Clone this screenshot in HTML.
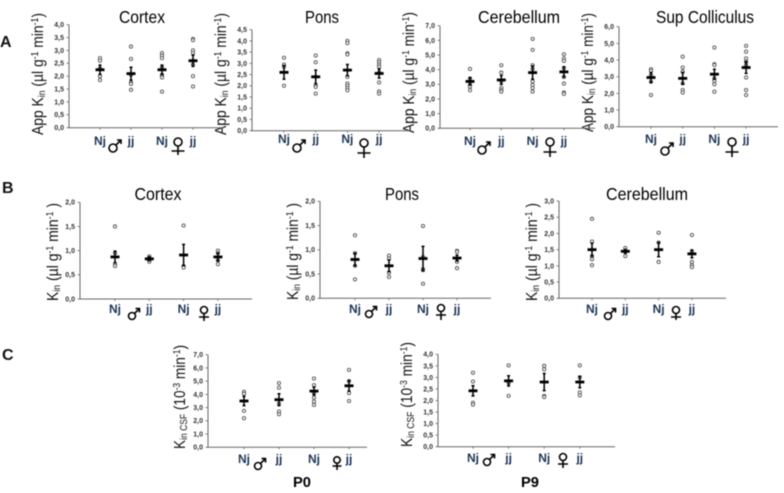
<!DOCTYPE html>
<html>
<head>
<meta charset="utf-8">
<style>
html,body{margin:0;padding:0;background:#fff;width:784px;height:493px;overflow:hidden}
svg{display:block;filter:blur(0.4px)}
text{font-family:"Liberation Sans",sans-serif}
.title{font-size:17.5px;fill:#000;text-anchor:middle}
.ylab{font-size:16px;fill:#111}
.sub{font-size:10px}
.letter{font-size:16px;font-weight:bold;fill:#111}
.age{font-size:15px;font-weight:bold;fill:#000;text-anchor:middle}
</style>
</head>
<body>
<svg id="figure" xmlns="http://www.w3.org/2000/svg" width="784" height="493" viewBox="0 0 784 493">
  <rect width="784" height="493" fill="#fff"/>

  <text class="letter" x="0" y="47">A</text>
  <text class="letter" x="2" y="193">B</text>
  <text class="letter" x="2" y="360">C</text>

  <text class="title" x="142" y="23" textLength="46" lengthAdjust="spacingAndGlyphs">Cortex</text>
  <text class="title" x="322" y="23" textLength="34" lengthAdjust="spacingAndGlyphs">Pons</text>
  <text class="title" x="519" y="23" textLength="82" lengthAdjust="spacingAndGlyphs">Cerebellum</text>
  <text class="title" x="705" y="23" textLength="98" lengthAdjust="spacingAndGlyphs">Sup Colliculus</text>
  <text class="title" x="158" y="200" textLength="47" lengthAdjust="spacingAndGlyphs">Cortex</text>
  <text class="title" x="402" y="200" textLength="34" lengthAdjust="spacingAndGlyphs">Pons</text>
  <text class="title" x="647" y="200" textLength="82" lengthAdjust="spacingAndGlyphs">Cerebellum</text>
  <text class="age" x="302" y="487" textLength="18" lengthAdjust="spacingAndGlyphs">P0</text>
  <text class="age" x="530" y="487" textLength="18" lengthAdjust="spacingAndGlyphs">P9</text>

  <text class="ylab" transform="translate(43 135) rotate(-90)" textLength="122" lengthAdjust="spacingAndGlyphs">App K<tspan class="sub" dy="2">in</tspan><tspan dy="-2"> (µl g</tspan><tspan class="sub" dy="-5">-1</tspan><tspan dy="5"> min</tspan><tspan class="sub" dy="-5">-1</tspan><tspan dy="5">)</tspan></text>
  <text class="ylab" transform="translate(226 135) rotate(-90)" textLength="122" lengthAdjust="spacingAndGlyphs">App K<tspan class="sub" dy="2">in</tspan><tspan dy="-2"> (µl g</tspan><tspan class="sub" dy="-5">-1</tspan><tspan dy="5"> min</tspan><tspan class="sub" dy="-5">-1</tspan><tspan dy="5">)</tspan></text>
  <text class="ylab" transform="translate(414 133) rotate(-90)" textLength="121" lengthAdjust="spacingAndGlyphs">App K<tspan class="sub" dy="2">in</tspan><tspan dy="-2"> (µl g</tspan><tspan class="sub" dy="-5">-1</tspan><tspan dy="5"> min</tspan><tspan class="sub" dy="-5">-1</tspan><tspan dy="5">)</tspan></text>
  <text class="ylab" transform="translate(593 132) rotate(-90)" textLength="119" lengthAdjust="spacingAndGlyphs">App K<tspan class="sub" dy="2">in</tspan><tspan dy="-2"> (µl g</tspan><tspan class="sub" dy="-5">-1</tspan><tspan dy="5"> min</tspan><tspan class="sub" dy="-5">-1</tspan><tspan dy="5">)</tspan></text>
  <rect x="596" y="90" width="8" height="46" fill="#fff"/>
  <text class="ylab" transform="translate(58 301) rotate(-90)" textLength="98" lengthAdjust="spacingAndGlyphs">K<tspan class="sub" dy="2">in</tspan><tspan dy="-2"> (µl g</tspan><tspan class="sub" dy="-5">-1</tspan><tspan dy="5"> min</tspan><tspan class="sub" dy="-5">-1</tspan><tspan dy="5"> )</tspan></text>
  <text class="ylab" transform="translate(298 300) rotate(-90)" textLength="97" lengthAdjust="spacingAndGlyphs">K<tspan class="sub" dy="2">in</tspan><tspan dy="-2"> (µl g</tspan><tspan class="sub" dy="-5">-1</tspan><tspan dy="5"> min</tspan><tspan class="sub" dy="-5">-1</tspan><tspan dy="5"> )</tspan></text>
  <text class="ylab" transform="translate(537 301) rotate(-90)" textLength="98" lengthAdjust="spacingAndGlyphs">K<tspan class="sub" dy="2">in</tspan><tspan dy="-2"> (µl g</tspan><tspan class="sub" dy="-5">-1</tspan><tspan dy="5"> min</tspan><tspan class="sub" dy="-5">-1</tspan><tspan dy="5"> )</tspan></text>
  <text class="ylab" transform="translate(185 449) rotate(-90)" textLength="104" lengthAdjust="spacingAndGlyphs">K<tspan class="sub" dy="2">in CSF</tspan><tspan dy="-2"> (10</tspan><tspan class="sub" dy="-5">-3</tspan><tspan dy="5"> min</tspan><tspan class="sub" dy="-5">-1</tspan><tspan dy="5">)</tspan></text>
  <text class="ylab" transform="translate(412 447) rotate(-90)" textLength="105" lengthAdjust="spacingAndGlyphs">K<tspan class="sub" dy="2">in CSF</tspan><tspan dy="-2"> (10</tspan><tspan class="sub" dy="-5">-3</tspan><tspan dy="5"> min</tspan><tspan class="sub" dy="-5">-1</tspan><tspan dy="5">)</tspan></text>

  <g id="charts"></g>
</svg>

<script>
// ---- data ----
const categories = ["Nj", "jj", "Nj", "jj"];

const ticksCortexA = ["0,0","0,5","1,0","1,5","2,0","2,5","3,0","3,5","4,0"];
const meansCortexA = [2.25, 2.1, 2.25, 2.6];
const errorsCortexA = [0.18, 0.25, 0.18, 0.22];
const pointsCortexA = [
  [2.7, 2.6, 2.3, 2.0, 1.85],
  [3.15, 2.67, 2.05, 1.75, 1.7, 1.47],
  [2.9, 2.8, 2.7, 2.35, 2.05, 2.0, 1.95, 1.4],
  [3.45, 3.4, 3.0, 2.9, 2.6, 2.45, 2.0, 1.6]
];

const ticksPonsA = ["0,0","0,5","1,0","1,5","2,0","2,5","3,0","3,5","4,0","4,5"];
const meansPonsA = [2.6, 2.4, 2.7, 2.55];
const errorsPonsA = [0.3, 0.3, 0.25, 0.2];
const pointsPonsA = [
  [3.25, 2.95, 2.85, 2.0],
  [3.35, 3.05, 2.4, 2.0, 1.95, 1.65],
  [4.0, 3.9, 3.45, 3.4, 2.4, 2.1, 2.0, 1.9, 1.8],
  [3.15, 3.05, 2.95, 2.85, 2.6, 2.15, 1.75, 1.65]
];

const ticksCerebellumA = ["0,0","1,0","2,0","3,0","4,0","5,0","6,0","7,0"];
const meansCerebellumA = [3.2, 3.3, 3.8, 3.85];
const errorsCerebellumA = [0.25, 0.3, 0.45, 0.35];
const pointsCerebellumA = [
  [4.05, 3.4, 3.0, 2.85, 2.6],
  [4.3, 3.8, 3.2, 2.75, 2.6, 2.5],
  [6.1, 5.35, 4.3, 4.05, 3.2, 2.95, 2.75, 2.5],
  [5.05, 4.75, 4.6, 4.1, 3.5, 3.05, 2.45, 2.35]
];

const ticksSupColliculusA = ["0,0","1,0","2,0","3,0","4,0","5,0","6,0"];
const meansSupColliculusA = [2.95, 2.9, 3.15, 3.55];
const errorsSupColliculusA = [0.3, 0.35, 0.3, 0.35];
const pointsSupColliculusA = [
  [3.45, 3.35, 3.1, 2.7, 1.9],
  [4.2, 3.55, 3.3, 2.6, 2.2, 2.05],
  [4.75, 3.75, 3.7, 2.9, 2.75, 2.55, 2.1],
  [4.85, 4.5, 4.1, 3.9, 3.7, 2.95, 2.2, 1.9]
];

const ticksCortexB = ["0,0","0,5","1,0","1,5","2,0"];
const meansCortexB = [0.87, 0.83, 0.91, 0.87];
const errorsCortexB = [0.12, 0.04, 0.22, 0.08];
const pointsCortexB = [
  [1.5, 0.95, 0.72, 0.68],
  [0.88, 0.85, 0.8, 0.77],
  [1.52, 0.68, 0.65],
  [1.0, 0.95, 0.8, 0.72]
];

const ticksPonsB = ["0,0","0,5","1,0","1,5","2,0"];
const meansPonsB = [0.8, 0.67, 0.82, 0.83];
const errorsPonsB = [0.13, 0.12, 0.25, 0.06];
const pointsPonsB = [
  [1.3, 0.93, 0.67, 0.39],
  [0.88, 0.82, 0.53, 0.44],
  [1.49, 0.85, 0.6, 0.58, 0.3],
  [0.98, 0.96, 0.82, 0.75, 0.62]
];

const ticksCerebellumB = ["0,0","0,5","1,0","1,5","2,0","2,5","3,0"];
const meansCerebellumB = [1.5, 1.45, 1.5, 1.37];
const errorsCerebellumB = [0.2, 0.06, 0.22, 0.12];
const pointsCerebellumB = [
  [2.45, 1.75, 1.3, 1.2, 1.02],
  [1.55, 1.45, 1.3],
  [2.02, 1.72, 1.12],
  [1.95, 1.45, 1.12, 1.02, 0.96]
];

const ticksP0 = ["0,0","1,0","2,0","3,0","4,0","5,0","6,0","7,0"];
const meansP0 = [3.5, 3.6, 4.25, 4.65];
const errorsP0 = [0.35, 0.45, 0.3, 0.4];
const pointsP0 = [
  [4.2, 4.05, 2.75, 2.2],
  [4.85, 4.5, 3.3, 2.7, 2.5],
  [5.2, 4.7, 4.1, 3.75, 3.45, 3.2],
  [5.85, 5.0, 4.1, 3.5]
];

const ticksP9 = ["0,0","0,5","1,0","1,5","2,0","2,5","3,0","3,5","4,0"];
const meansP9 = [2.42, 2.85, 2.8, 2.8];
const errorsP9 = [0.22, 0.22, 0.37, 0.25];
const pointsP9 = [
  [3.2, 2.82, 1.9, 1.82],
  [3.52, 2.75, 2.2],
  [3.5, 3.35, 2.2, 2.15],
  [3.52, 3.0, 2.35, 2.22]
];

// ---- layout (separate from the data) ----
const panels = [
  {id:"a-cortex", ticks:ticksCortexA, means:meansCortexA, errors:errorsCortexA, points:pointsCortexA,
   box:{left:69,right:224,top:24.7,bottom:127.7,first:100,step:31,label:145},
   male:{x:113,y:148,r:4}, female:{x:178,y:142,r:4,cross:151,end:155,half:6.5}},
  {id:"a-pons", ticks:ticksPonsA, means:meansPonsA, errors:errorsPonsA, points:pointsPonsA,
   box:{left:252,right:410,top:29.7,bottom:130.7,first:284,step:31.7,label:143},
   male:{x:297,y:148,r:4}, female:{x:364,y:143,r:4,cross:153,end:158,half:6.5}},
  {id:"a-cerebellum", ticks:ticksCerebellumA, means:meansCerebellumA, errors:errorsCerebellumA, points:pointsCerebellumA,
   box:{left:440,right:595,top:25.7,bottom:128.3,first:470,step:31.3,label:145},
   male:{x:482,y:150,r:4}, female:{x:550,y:142,r:4,cross:152,end:157,half:6.5}},
  {id:"a-sup-colliculus", ticks:ticksSupColliculusA, means:meansSupColliculusA, errors:errorsSupColliculusA, points:pointsSupColliculusA,
   box:{left:619,right:778,top:26.7,bottom:126.7,first:651,step:31.7,label:143},
   male:{x:665,y:151,r:4}, female:{x:732,y:142,r:4,cross:152,end:157,half:6.5}},
  {id:"b-cortex", ticks:ticksCortexB, means:meansCortexB, errors:errorsCortexB, points:pointsCortexB,
   box:{left:80,right:252,top:202.3,bottom:299,first:115,step:34.3,label:313},
   male:{x:132,y:316,r:3.5}, female:{x:204,y:310,r:3.5,cross:317,end:321,half:5}},
  {id:"b-pons", ticks:ticksPonsB, means:meansPonsB, errors:errorsPonsB, points:pointsPonsB,
   box:{left:320,right:491,top:201.3,bottom:298.3,first:355,step:34,label:313},
   male:{x:369,y:314,r:3.5}, female:{x:441,y:308,r:3.5,cross:315,end:320,half:5}},
  {id:"b-cerebellum", ticks:ticksCerebellumB, means:meansCerebellumB, errors:errorsCerebellumB, points:pointsCerebellumB,
   box:{left:559,right:726,top:201,bottom:298.3,first:592,step:33.3,label:313},
   male:{x:608,y:316,r:3.5}, female:{x:676,y:310,r:3.5,cross:317,end:320,half:5}},
  {id:"p0", ticks:ticksP0, means:meansP0, errors:errorsP0, points:pointsP0,
   box:{left:208,right:367,top:354.7,bottom:447.3,first:244,step:35,label:463},
   male:{x:258,y:466,r:3.5}, female:{x:337,y:460,r:3.2,cross:466,end:470,half:4.5}},
  {id:"p9", ticks:ticksP9, means:meansP9, errors:errorsP9, points:pointsP9,
   box:{left:438,right:615,top:354.3,bottom:446.7,first:473,step:35.6,label:462},
   male:{x:487,y:462,r:3.5}, female:{x:563,y:457,r:3.5,cross:464,end:468,half:5}}
];

// ---- drawing ----
const NS = "http://www.w3.org/2000/svg";
const root = document.getElementById("charts");

function make(parent, tag, attrs) {
  const el = document.createElementNS(NS, tag);
  for (const k in attrs) el.setAttribute(k, attrs[k]);
  parent.appendChild(el);
  return el;
}
function tickValue(label) { return parseFloat(label.replace(",", ".")); }

panels.forEach(function (p) {
  const b = p.box;
  const maxV = tickValue(p.ticks[p.ticks.length - 1]);
  const yScale = function (v) { return b.bottom - (v / maxV) * (b.bottom - b.top); };
  const xScale = function (i) { return b.first + i * b.step; };

  const g = make(root, "g", {});
  
  

  const yAxis = make(g, "line", {x1:b.left, x2:b.left, y1:b.top, y2:b.bottom, stroke:"#666", "stroke-width":1});
  
  

  const xAxis = make(g, "line", {x1:b.left - 1, x2:b.right, y1:b.bottom, y2:b.bottom, stroke:"#666", "stroke-width":1});
  
  

  p.ticks.forEach(function (label) {
    const y = yScale(tickValue(label));
    const mark = make(g, "line", {x1:b.left - 2.5, x2:b.left, y1:y, y2:y, stroke:"#666", "stroke-width":0.8});
    
    
    const t = make(g, "text", {x:b.left - 5, y:y + 2.4, "text-anchor":"end", "font-size":7, "font-weight":"bold", fill:"#333"});
    t.textContent = label;
    
    
  });

  categories.forEach(function (name, i) {
    const x = xScale(i);
    const tick = make(g, "line", {x1:x, x2:x, y1:b.bottom, y2:b.bottom + 2, stroke:"#666", "stroke-width":0.8});
    
    

    const label = make(g, "text", {x:x, y:b.label, "text-anchor":"middle", "font-size":12, "font-weight":"bold", fill:"#1d3557"});
    label.textContent = name;
    
    

    p.points[i].forEach(function (v) {
      const dot = make(g, "circle", {cx:x, cy:yScale(v), r:1.6, fill:"#fff", stroke:"#555", "stroke-width":0.9});
      
      
    });

    const m = p.means[i], e = p.errors[i];
    const err = make(g, "path", {
      d: "M" + (x - 1.5) + " " + yScale(m + e) + "H" + (x + 1.5) +
         "M" + x + " " + yScale(m + e) + "V" + yScale(m - e) +
         "M" + (x - 1.5) + " " + yScale(m - e) + "H" + (x + 1.5),
      fill:"none", stroke:"#000", "stroke-width":1.5
    });
    
    

    const bar = make(g, "line", {x1:x - 4.5, x2:x + 4.5, y1:yScale(m), y2:yScale(m), stroke:"#000", "stroke-width":2.8});
    
    
  });

  const mal = p.male;
  const d = mal.r * 0.7;
  const male = make(g, "path", {
    d: "M" + (mal.x + d) + " " + (mal.y - d) + "L" + (mal.x + mal.r + 4) + " " + (mal.y - mal.r - 4) +
       "M" + (mal.x + mal.r) + " " + (mal.y - mal.r - 4) + "H" + (mal.x + mal.r + 4) + "V" + (mal.y - mal.r),
    fill:"none", stroke:"#000", "stroke-width":1.6
  });
  
  
  const maleRing = make(g, "circle", {cx:mal.x, cy:mal.y, r:mal.r, fill:"none", stroke:"#000", "stroke-width":1.6});
  
  

  const fem = p.female;
  const femaleCross = make(g, "path", {
    d: "M" + fem.x + " " + (fem.y + fem.r) + "V" + fem.end +
       "M" + (fem.x - fem.half) + " " + fem.cross + "H" + (fem.x + fem.half),
    fill:"none", stroke:"#000", "stroke-width":1.6
  });
  
  
  const femaleRing = make(g, "circle", {cx:fem.x, cy:fem.y, r:fem.r, fill:"none", stroke:"#000", "stroke-width":1.6});
  
  
});
</script>
</body>
</html>
